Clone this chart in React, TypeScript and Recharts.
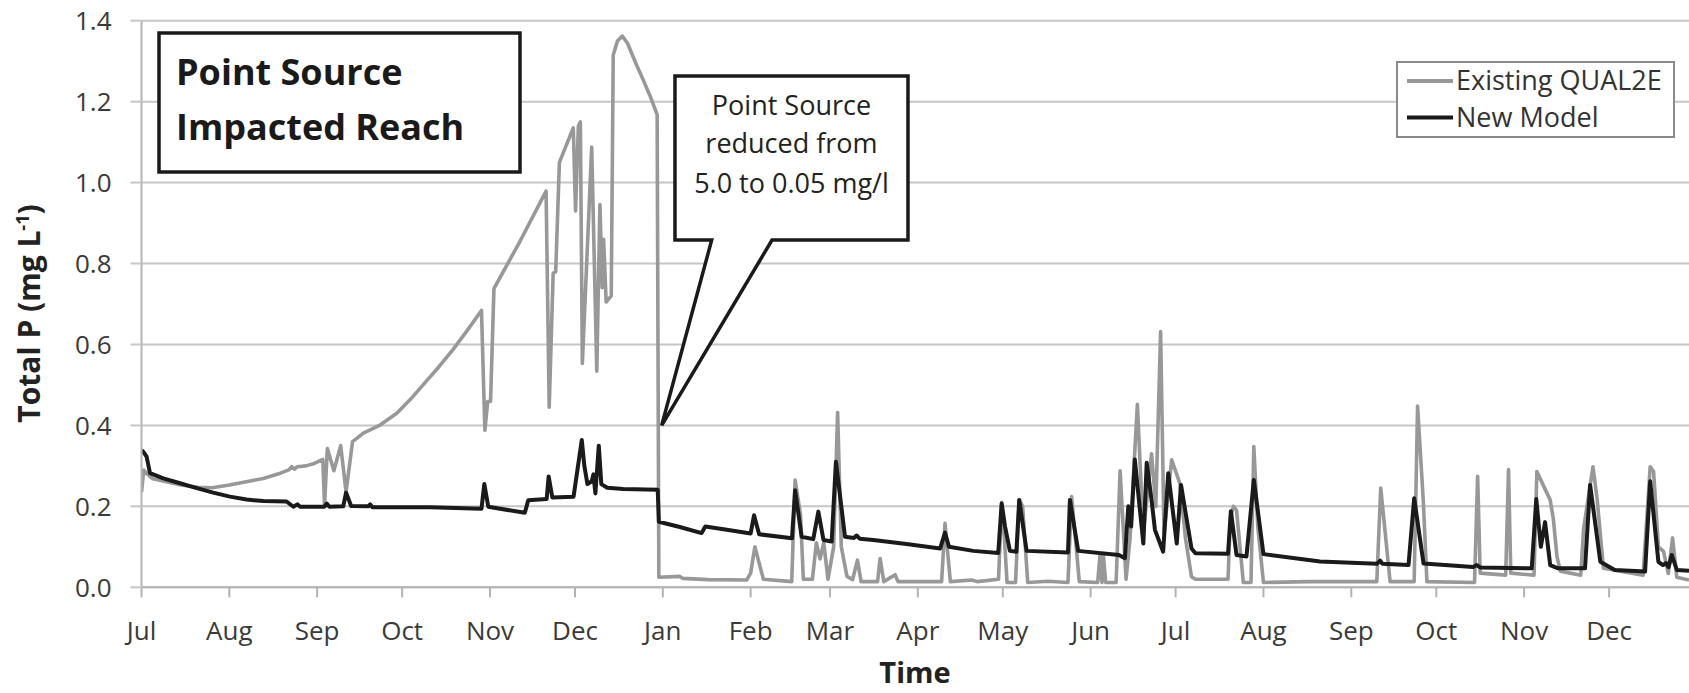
import React from 'react';
import { LineChart, Line, XAxis, YAxis, CartesianGrid, ReferenceDot } from 'recharts';

// Days since 1 July of the first year
const monthTicks = [0, 31, 62, 92, 123, 153, 184, 215, 243, 274, 304, 335, 365, 396, 427, 457, 488, 518];
const monthLabels = ['Jul', 'Aug', 'Sep', 'Oct', 'Nov', 'Dec', 'Jan', 'Feb', 'Mar', 'Apr', 'May', 'Jun', 'Jul', 'Aug', 'Sep', 'Oct', 'Nov', 'Dec'];
const yTicks = [0, 0.2, 0.4, 0.6, 0.8, 1.0, 1.2, 1.4];

// Existing QUAL2E (grey)
const qualDays = [0, 0.8, 2, 4, 8, 14, 20, 25, 31, 37, 43, 49, 52, 53, 54, 55, 58, 61, 64, 64.6, 65.6, 67.9, 70.3, 72.2, 74.5, 78.3, 84.2, 90.1, 95, 100, 105, 110, 115, 120, 121.2, 122.2, 123.2, 124.4, 133.6, 142.8, 143.9, 145.3, 146.2, 147.5, 152.4, 153.2, 154.2, 154.9, 155.6, 158.9, 160.7, 161.8, 162.6, 163.1, 164.0, 165.8, 166.5, 168, 169.7, 171.5, 174.7, 177, 179.4, 182, 182.6, 190, 191, 200, 213.6, 215, 216.5, 218, 219.5, 229.5, 230.7, 232.6, 233.6, 236.8, 238.2, 239.5, 240.8, 242.3, 244.3, 245.7, 247, 249, 251, 252.7, 254, 259.8, 260.7, 262, 266, 267, 282.4, 283.6, 285.5, 293, 295, 302.5, 303.6, 304.5, 305.5, 308.5, 309.8, 311, 312.8, 320, 327, 328.3, 331, 337.5, 338.3, 339, 339.5, 340.3, 344, 345.4, 347.5, 348.9, 351.5, 353.6, 356.5, 358, 359.7, 360.9, 363.6, 366.5, 368.5, 370.6, 372, 383.5, 384.3, 385.4, 386.5, 388.9, 391.6, 392.6, 394, 396, 412, 436, 437.4, 440.7, 449.2, 450.4, 452.4, 453.7, 470.5, 471.6, 472.5, 481.5, 482.5, 483.3, 491.5, 492.5, 494.9, 497.2, 498.3, 499.6, 500.8, 508, 509, 512.3, 513.8, 516, 530, 532.5, 533.7, 535.4, 537.2, 538.9, 540.4, 541.9, 546.2];
const qualValues = [0.235, 0.29, 0.28, 0.268, 0.262, 0.253, 0.247, 0.246, 0.253, 0.261, 0.269, 0.282, 0.29, 0.298, 0.292, 0.298, 0.3, 0.306, 0.316, 0.203, 0.343, 0.288, 0.35, 0.236, 0.36, 0.381, 0.401, 0.43, 0.465, 0.505, 0.545, 0.588, 0.635, 0.684, 0.388, 0.459, 0.46, 0.738, 0.855, 0.979, 0.445, 0.776, 0.78, 1.05, 1.135, 0.93, 1.14, 1.15, 0.553, 1.088, 0.534, 0.946, 0.74, 0.86, 0.705, 0.72, 1.315, 1.35, 1.362, 1.345, 1.291, 1.255, 1.216, 1.168, 0.025, 0.027, 0.022, 0.019, 0.018, 0.035, 0.1, 0.06, 0.02, 0.014, 0.265, 0.18, 0.02, 0.02, 0.11, 0.07, 0.11, 0.02, 0.1, 0.432, 0.1, 0.027, 0.019, 0.067, 0.014, 0.014, 0.071, 0.014, 0.031, 0.014, 0.014, 0.158, 0.014, 0.018, 0.014, 0.02, 0.21, 0.13, 0.012, 0.012, 0.216, 0.2, 0.012, 0.015, 0.012, 0.224, 0.014, 0.012, 0.08, 0.012, 0.08, 0.012, 0.012, 0.288, 0.02, 0.12, 0.452, 0.133, 0.33, 0.2, 0.632, 0.133, 0.315, 0.257, 0.12, 0.026, 0.02, 0.02, 0.17, 0.2, 0.19, 0.012, 0.012, 0.348, 0.15, 0.012, 0.014, 0.014, 0.245, 0.014, 0.014, 0.448, 0.216, 0.014, 0.012, 0.274, 0.035, 0.03, 0.291, 0.035, 0.03, 0.286, 0.25, 0.216, 0.17, 0.076, 0.04, 0.03, 0.145, 0.298, 0.216, 0.047, 0.03, 0.298, 0.286, 0.1, 0.089, 0.034, 0.122, 0.025, 0.018];

// New Model (black)
const newDays = [0, 0.6, 1.8, 3, 7.7, 13.6, 19.5, 25.3, 31.2, 37.1, 43, 51.2, 53.6, 55, 56, 64.5, 65.4, 66.3, 71.2, 72.2, 74, 80, 80.7, 81.5, 101.8, 120, 121, 122.4, 135.3, 136.5, 143, 143.7, 145, 152.5, 155.4, 156.3, 157.4, 158.9, 159.5, 160.2, 161.4, 162.3, 164.4, 170, 182.2, 182.6, 190, 197.7, 199, 206.6, 215, 216.2, 218, 229.6, 230.7, 233, 237.1, 238.9, 240.7, 243.6, 245.1, 248.3, 251.5, 252.4, 253.5, 258.3, 270, 281.9, 283.6, 285, 293.6, 302.4, 303.6, 304.8, 306.5, 308.8, 309.8, 312.4, 327, 327.7, 330.6, 345, 347.1, 348.3, 349.3, 350.6, 353.6, 354.8, 356.5, 357.7, 360.6, 362.4, 365.4, 366.9, 370.6, 372, 383.5, 384.5, 386.5, 390, 392.6, 396, 416, 436, 437.2, 438, 447.2, 449.2, 452.5, 470, 471.3, 472.5, 490.7, 492.3, 493.9, 495.4, 497.2, 500, 509.5, 511.3, 514.9, 520, 530.7, 532.5, 535.4, 537, 538, 539, 540.1, 541.9, 546.2];
const newValues = [0.339, 0.335, 0.323, 0.282, 0.269, 0.257, 0.245, 0.234, 0.224, 0.217, 0.213, 0.212, 0.199, 0.205, 0.199, 0.199, 0.207, 0.199, 0.2, 0.234, 0.201, 0.2, 0.205, 0.198, 0.198, 0.194, 0.255, 0.199, 0.184, 0.215, 0.218, 0.274, 0.222, 0.224, 0.364, 0.3, 0.255, 0.262, 0.279, 0.232, 0.35, 0.255, 0.246, 0.243, 0.241, 0.162, 0.149, 0.134, 0.15, 0.142, 0.133, 0.178, 0.131, 0.121, 0.24, 0.125, 0.119, 0.187, 0.117, 0.113, 0.31, 0.125, 0.122, 0.128, 0.12, 0.117, 0.107, 0.096, 0.135, 0.1, 0.09, 0.085, 0.207, 0.15, 0.09, 0.088, 0.216, 0.09, 0.086, 0.216, 0.09, 0.08, 0.072, 0.2, 0.15, 0.316, 0.108, 0.308, 0.216, 0.142, 0.088, 0.282, 0.108, 0.253, 0.096, 0.084, 0.083, 0.188, 0.08, 0.076, 0.265, 0.082, 0.064, 0.058, 0.066, 0.058, 0.055, 0.22, 0.059, 0.05, 0.055, 0.049, 0.047, 0.218, 0.1, 0.161, 0.055, 0.047, 0.047, 0.253, 0.063, 0.043, 0.039, 0.262, 0.063, 0.055, 0.06, 0.05, 0.08, 0.043, 0.041];

const qualData = qualDays.map((d, i) => ({ day: d, v: qualValues[i] }));
const newData = newDays.map((d, i) => ({ day: d, v: newValues[i] }));

const FONT = '"Open Sans", "Noto Sans", sans-serif';
const W = 1689;
const H = 693;

const Callout = (props: any) => {
  const { cx, cy } = props;
  if (cx == null || cy == null) return null;
  const left = cx + 13.3;
  const right = cx + 246.3;
  const top = cy - 349.3;
  const bottom = cy - 185.3;
  const d = `M${left},${top} L${right},${top} L${right},${bottom} L${cx + 110.3},${bottom} L${cx},${cy} L${cx + 50},${bottom} L${left},${bottom} Z`;
  const mid = (left + right) / 2;
  return (
    <g>
      <path d={d} fill="#ffffff" stroke="#1a1a1a" strokeWidth={3.5} strokeLinejoin="miter" />
      <text x={mid} y={cy - 310} textAnchor="middle" fontFamily={FONT} fontSize={27} fill="#222">Point Source</text>
      <text x={mid} y={cy - 272} textAnchor="middle" fontFamily={FONT} fontSize={27} fill="#222">reduced from</text>
      <text x={mid} y={cy - 232} textAnchor="middle" fontFamily={FONT} fontSize={27} fill="#222">5.0 to 0.05 mg/l</text>
    </g>
  );
};

export default function App() {
  return (
    <div style={{ position: 'absolute', left: 0, top: 0, width: W, height: H, background: '#fff' }}>
      <LineChart width={W} height={H} margin={{ top: 20.7, right: 0, bottom: 0, left: 0 }}>
        <CartesianGrid vertical={false} stroke="#c6c6c6" strokeWidth={2} />
        <XAxis
          type="number"
          dataKey="day"
          domain={[0, 546.2]}
          ticks={monthTicks}
          tickFormatter={(v: number) => monthLabels[monthTicks.indexOf(v)] ?? ''}
          height={105.7}
          allowDataOverflow
          interval={0}
          axisLine={{ stroke: '#b3b3b3', strokeWidth: 2 }}
          tickLine={{ stroke: '#b3b3b3', strokeWidth: 2 }}
          tickSize={10}
          tickMargin={24}
          tick={{ fontSize: 26, fill: '#3a3a3a', fontFamily: FONT }}
        />
        <YAxis
          type="number"
          domain={[0, 1.4]}
          ticks={yTicks}
          width={141.5}
          interval={0}
          tickFormatter={(v: number) => v.toFixed(1)}
          axisLine={{ stroke: '#b3b3b3', strokeWidth: 2 }}
          tickLine={{ stroke: '#c6c6c6', strokeWidth: 2 }}
          tickSize={11}
          tickMargin={19}
          tick={{ fontSize: 26, fill: '#3a3a3a', fontFamily: FONT }}
        />
        <Line data={qualData} dataKey="v" type="linear" stroke="#989898" strokeWidth={3.6} dot={false} isAnimationActive={false} strokeLinejoin="round" />
        <Line data={newData} dataKey="v" type="linear" stroke="#1a1a1a" strokeWidth={4} dot={false} isAnimationActive={false} strokeLinejoin="round" />
        <ReferenceDot x={183.6} y={0.4} r={0} shape={Callout} isFront />
      </LineChart>
      <svg width={W} height={H} style={{ position: 'absolute', left: 0, top: 0, pointerEvents: 'none' }}>
        <rect x={159} y={33} width={361} height={139} fill="#fff" stroke="#1a1a1a" strokeWidth={3.5} />
        <text x={176} y={85} fontFamily={FONT} fontWeight={700} fontSize={36} fill="#1a1a1a">Point Source</text>
        <text x={176} y={140} fontFamily={FONT} fontWeight={700} fontSize={36} fill="#1a1a1a">Impacted Reach</text>

        <rect x={1397} y={62} width={277} height={75} fill="#fff" stroke="#8a8a8a" strokeWidth={2} />
        <line x1={1407} x2={1453} y1={81} y2={81} stroke="#989898" strokeWidth={4} />
        <text x={1456} y={90} fontFamily={FONT} fontSize={27} fill="#333">Existing QUAL2E</text>
        <line x1={1407} x2={1453} y1={117.5} y2={117.5} stroke="#1a1a1a" strokeWidth={4} />
        <text x={1456} y={127} fontFamily={FONT} fontSize={27} fill="#333">New Model</text>

        <text x={915} y={683} textAnchor="middle" fontFamily={FONT} fontWeight={700} fontSize={29} fill="#222">Time</text>
        <text transform="rotate(-90)" x={-313.5} y={40} textAnchor="middle" fontFamily={FONT} fontWeight={700} fontSize={30} fill="#222">
          Total P (mg L<tspan dy={-11} fontSize={18}>-1</tspan><tspan dy={11}>)</tspan>
        </text>
      </svg>
    </div>
  );
}
